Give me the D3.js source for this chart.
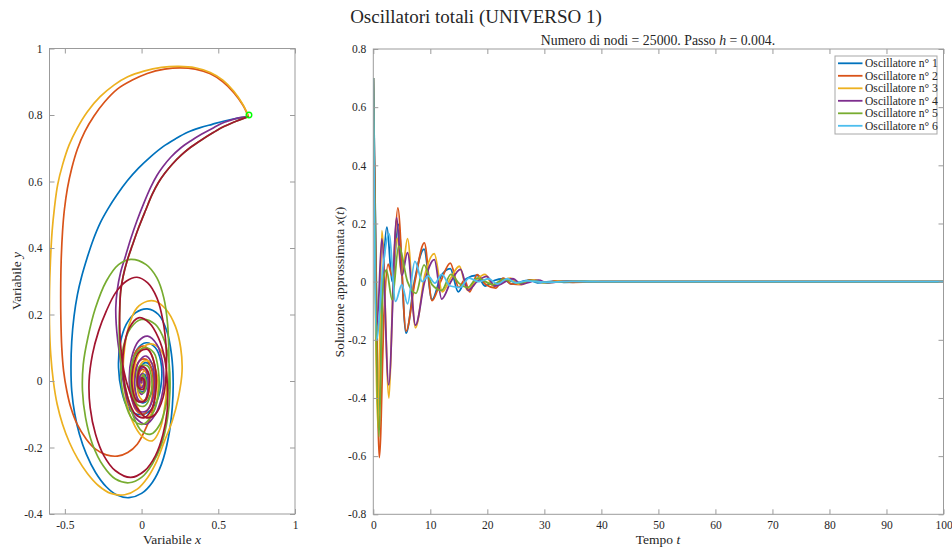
<!DOCTYPE html>
<html>
<head>
<meta charset="utf-8">
<script src="https://cdn.jsdelivr.net/npm/d3@7"></script>
<style>
  body { margin: 0; background: #fff; }
  svg { display: block; }
  text { font-family: "Liberation Serif", "Times New Roman", serif; fill: #262626; }
</style>
</head>
<body>
<svg id="chart" width="952" height="550"></svg>
<script>
// ---- tick values ----
const phaseXTicks = [-0.5, 0, 0.5, 1];
const phaseYTicks = [-0.4, -0.2, 0, 0.2, 0.4, 0.6, 0.8, 1];
const timeXTicks = [0, 10, 20, 30, 40, 50, 60, 70, 80, 90, 100];
const timeYTicks = [-0.8, -0.6, -0.4, -0.2, 0, 0.2, 0.4, 0.6, 0.8];

const legendLabels = ["Oscillatore n° 1", "Oscillatore n° 2", "Oscillatore n° 3",
                      "Oscillatore n° 4", "Oscillatore n° 5", "Oscillatore n° 6"];

// ---- phase trajectories [x, y] ----
const phase1 = [[0.697,0.795],[0.62,0.79],[0.54,0.782],[0.46,0.772],[0.383,0.762],[0.30,0.748],[0.22,0.728],[0.14,0.705],[0.06,0.675],[-0.02,0.64],[-0.093,0.602],[-0.16,0.56],[-0.22,0.517],[-0.27,0.475],[-0.315,0.425],[-0.355,0.37],[-0.39,0.315],[-0.418,0.26],[-0.44,0.195],[-0.455,0.12],[-0.46,0.04],[-0.455,-0.03],[-0.435,-0.1],[-0.405,-0.16],[-0.36,-0.22],[-0.3,-0.275],[-0.23,-0.318],[-0.16,-0.343],[-0.082,-0.351],[0.0,-0.338],[0.07,-0.305],[0.13,-0.25],[0.175,-0.17],[0.2,-0.08],[0.206,0.0],[0.195,0.08],[0.165,0.15],[0.11,0.2],[0.037,0.217],[-0.04,0.205],[-0.1,0.17],[-0.14,0.11],[-0.15,0.04],[-0.13,-0.03],[-0.09,-0.08],[-0.03,-0.1],[0.04,-0.095],[0.1,-0.06],[0.13,0.0],[0.125,0.06],[0.09,0.1],[0.03,0.115],[-0.03,0.095],[-0.06,0.05],[-0.065,-0.01],[-0.035,-0.055],[0.015,-0.065],[0.06,-0.04],[0.08,0.0],[0.065,0.04],[0.025,0.055],[-0.015,0.035],[-0.03,0.0],[-0.01,-0.03],[0.02,-0.03],[0.035,-0.005],[0.02,0.02],[0.0,0.0]];
const phase2 = [[0.697,0.795],[0.66,0.83],[0.6,0.868],[0.53,0.9],[0.448,0.924],[0.35,0.938],[0.253,0.942],[0.15,0.938],[0.037,0.925],[-0.06,0.905],[-0.158,0.878],[-0.24,0.84],[-0.31,0.797],[-0.37,0.75],[-0.418,0.698],[-0.455,0.64],[-0.483,0.58],[-0.503,0.515],[-0.515,0.45],[-0.524,0.36],[-0.527,0.27],[-0.526,0.19],[-0.52,0.1],[-0.508,0.03],[-0.487,-0.03],[-0.461,-0.08],[-0.42,-0.13],[-0.36,-0.175],[-0.3,-0.205],[-0.23,-0.222],[-0.158,-0.226],[-0.09,-0.215],[-0.028,-0.19],[0.03,-0.14],[0.07,-0.09],[0.09,-0.03],[0.09,0.03],[0.065,0.08],[0.015,0.105],[-0.035,0.09],[-0.065,0.04],[-0.07,-0.03],[-0.04,-0.085],[0.01,-0.1],[0.055,-0.075],[0.075,-0.02],[0.065,0.035],[0.03,0.065],[-0.015,0.06],[-0.045,0.025],[-0.045,-0.03],[-0.015,-0.06],[0.025,-0.055],[0.045,-0.02],[0.035,0.02],[0.005,0.035],[-0.02,0.015],[-0.015,-0.02],[0.01,-0.025],[0.02,0.0],[0.0,0.0]];
const phase3 = [[0.697,0.795],[0.66,0.832],[0.6,0.872],[0.53,0.905],[0.448,0.928],[0.35,0.942],[0.242,0.946],[0.13,0.943],[0.015,0.932],[-0.09,0.915],[-0.18,0.89],[-0.27,0.855],[-0.353,0.81],[-0.42,0.76],[-0.472,0.71],[-0.515,0.65],[-0.547,0.59],[-0.568,0.52],[-0.583,0.45],[-0.594,0.36],[-0.6,0.27],[-0.6,0.17],[-0.592,0.08],[-0.575,0.0],[-0.55,-0.07],[-0.515,-0.13],[-0.47,-0.185],[-0.415,-0.235],[-0.353,-0.278],[-0.28,-0.315],[-0.2,-0.338],[-0.11,-0.342],[-0.028,-0.325],[0.04,-0.29],[0.1,-0.24],[0.15,-0.18],[0.2,-0.12],[0.24,-0.05],[0.264,0.03],[0.255,0.1],[0.22,0.165],[0.16,0.215],[0.09,0.24],[0.037,0.24],[-0.03,0.22],[-0.08,0.17],[-0.11,0.1],[-0.12,0.02],[-0.1,-0.06],[-0.06,-0.12],[0.0,-0.165],[0.07,-0.18],[0.12,-0.145],[0.15,-0.08],[0.165,0.0],[0.15,0.07],[0.1,0.105],[0.04,0.11],[-0.02,0.08],[-0.05,0.03],[-0.05,-0.03],[-0.02,-0.085],[0.03,-0.11],[0.08,-0.09],[0.105,-0.04],[0.1,0.02],[0.065,0.055],[0.015,0.06],[-0.02,0.035],[-0.03,-0.01],[-0.01,-0.05],[0.025,-0.06],[0.05,-0.03],[0.045,0.01],[0.02,0.03],[-0.005,0.015],[0.0,-0.015],[0.015,-0.01],[0.0,0.0]];
const phase4 = [[0.697,0.795],[0.62,0.79],[0.54,0.778],[0.47,0.762],[0.39,0.742],[0.32,0.722],[0.253,0.7],[0.19,0.673],[0.14,0.645],[0.1,0.618],[0.06,0.583],[0.015,0.535],[-0.03,0.482],[-0.071,0.427],[-0.105,0.375],[-0.136,0.328],[-0.158,0.275],[-0.168,0.22],[-0.165,0.17],[-0.155,0.12],[-0.14,0.07],[-0.12,0.0],[-0.085,-0.07],[-0.04,-0.11],[0.03,-0.13],[0.09,-0.1],[0.13,-0.05],[0.145,0.0],[0.135,0.06],[0.1,0.11],[0.04,0.135],[-0.02,0.12],[-0.065,0.07],[-0.08,0.0],[-0.06,-0.06],[-0.02,-0.09],[0.03,-0.09],[0.07,-0.06],[0.085,0.0],[0.07,0.05],[0.03,0.075],[-0.015,0.06],[-0.04,0.02],[-0.04,-0.03],[-0.015,-0.06],[0.02,-0.06],[0.04,-0.03],[0.04,0.015],[0.02,0.04],[-0.01,0.035],[-0.025,0.01],[-0.02,-0.025],[0.0,-0.04],[0.02,-0.025],[0.022,0.005],[0.008,0.022],[-0.01,0.015],[-0.015,-0.005],[-0.005,-0.02],[0.01,-0.015],[0.012,0.005],[0.0,0.01],[-0.006,0.0],[0.0,-0.006],[0.0,0.0]];
const phase5 = [[0.697,0.795],[0.62,0.782],[0.54,0.766],[0.47,0.748],[0.39,0.725],[0.32,0.703],[0.26,0.68],[0.2,0.652],[0.15,0.624],[0.11,0.597],[0.07,0.562],[0.025,0.512],[-0.02,0.46],[-0.06,0.408],[-0.095,0.36],[-0.12,0.315],[-0.136,0.27],[-0.142,0.22],[-0.146,0.15],[-0.14,0.08],[-0.12,0.02],[-0.09,-0.05],[-0.05,-0.11],[0.0,-0.15],[0.06,-0.16],[0.12,-0.13],[0.16,-0.07],[0.178,0.0],[0.178,0.08],[0.17,0.17],[0.145,0.25],[0.1,0.31],[0.03,0.35],[-0.071,0.366],[-0.15,0.35],[-0.23,0.3],[-0.3,0.22],[-0.35,0.13],[-0.38,0.05],[-0.385,-0.03],[-0.365,-0.11],[-0.32,-0.19],[-0.25,-0.255],[-0.17,-0.295],[-0.082,-0.306],[0.0,-0.29],[0.07,-0.25],[0.13,-0.19],[0.17,-0.11],[0.185,-0.03],[0.18,0.05],[0.15,0.12],[0.09,0.17],[0.0,0.185],[-0.07,0.16],[-0.12,0.1],[-0.135,0.02],[-0.11,-0.06],[-0.06,-0.115],[0.01,-0.13],[0.07,-0.1],[0.11,-0.04],[0.11,0.03],[0.08,0.085],[0.02,0.1],[-0.04,0.08],[-0.07,0.03],[-0.065,-0.03],[-0.03,-0.07],[0.02,-0.075],[0.06,-0.04],[0.065,0.01],[0.04,0.045],[-0.01,0.045],[-0.03,0.01],[-0.015,-0.03],[0.015,-0.035],[0.03,-0.005],[0.01,0.02],[0.0,0.0]];
const phase6 = [[0.697,0.795],[0.62,0.782],[0.54,0.766],[0.47,0.748],[0.39,0.725],[0.32,0.703],[0.26,0.68],[0.2,0.652],[0.15,0.624],[0.11,0.597],[0.07,0.562],[0.025,0.512],[-0.02,0.46],[-0.06,0.408],[-0.095,0.36],[-0.12,0.315],[-0.136,0.27],[-0.142,0.22],[-0.142,0.16],[-0.135,0.1],[-0.115,0.03],[-0.08,-0.03],[-0.03,-0.08],[0.03,-0.11],[0.09,-0.1],[0.14,-0.05],[0.16,0.02],[0.16,0.1],[0.14,0.18],[0.1,0.25],[0.04,0.295],[-0.03,0.312],[-0.1,0.3],[-0.17,0.265],[-0.23,0.21],[-0.28,0.15],[-0.32,0.08],[-0.342,0.0],[-0.335,-0.08],[-0.3,-0.16],[-0.245,-0.225],[-0.17,-0.27],[-0.071,-0.29],[0.02,-0.27],[0.09,-0.225],[0.14,-0.16],[0.167,-0.09],[0.168,-0.01],[0.15,0.07],[0.11,0.13],[0.05,0.175],[-0.02,0.19],[-0.08,0.16],[-0.115,0.1],[-0.12,0.02],[-0.09,-0.05],[-0.04,-0.1],[0.02,-0.11],[0.07,-0.08],[0.095,-0.02],[0.085,0.05],[0.04,0.095],[-0.02,0.085],[-0.055,0.04],[-0.06,-0.02],[-0.03,-0.06],[0.02,-0.06],[0.05,-0.02],[0.04,0.03],[0.0,0.045],[-0.025,0.015],[-0.02,-0.02],[0.01,-0.025],[0.02,0.0],[0.0,0.01],[0.0,0.0]];
const startPoint = [0.7, 0.8];

// ---- time histories [t, x(t)] ----
const osc1 = [[0,0.70],[0.45,0.1],[0.93,-0.46],[1.6,-0.05],[2.4,0.187],[3.3,0.0],[4.4,0.197],[5.75,-0.177],[7.2,0.0],[8.9,0.112],[10.3,-0.062],[11.9,0.02],[13.5,0.045],[14.9,-0.035],[16.3,0.01],[18.2,0.022],[19.6,-0.015],[21.2,0.004],[22.8,0.01],[24.2,-0.008],[27.4,0.005],[28.8,-0.004],[32,0.002],[33.4,-0.002],[40,0],[100,0]];
const osc2 = [[0,0.70],[0.5,0.0],[1.05,-0.605],[1.9,-0.1],[2.6,0.06],[3.3,0.02],[4.3,0.254],[5.75,-0.17],[7.3,0.0],[8.95,0.133],[10.3,-0.065],[11.8,0.0],[13.5,0.064],[15.0,-0.02],[16.0,0.005],[16.9,-0.035],[18.2,0.024],[19.7,-0.01],[21.5,-0.022],[22.8,0.012],[24.2,-0.008],[26.0,-0.01],[27.4,0.006],[30.5,-0.004],[32,0.003],[35,-0.002],[40,0],[100,0]];
const osc3 = [[0,0.70],[0.8,-0.5],[1.5,0.175],[2.75,-0.40],[3.5,0.0],[4.2,0.15],[5.0,0.02],[6.0,0.148],[7.4,-0.159],[9.0,0.02],[10.7,0.096],[12.1,-0.035],[13.5,0.01],[15.1,0.053],[16.5,-0.03],[18.0,0.005],[19.6,0.025],[21.0,-0.015],[24.0,0.012],[25.5,-0.008],[28.5,0.006],[30,-0.004],[33,0.003],[40,0],[100,0]];
const osc4 = [[0,0.70],[0.65,-0.15],[1.5,0.147],[2.7,-0.355],[4.1,0.22],[5.0,0.02],[6.0,0.10],[7.4,-0.15],[9.0,0.0],[10.7,0.076],[12.0,-0.06],[13.6,0.0],[15.3,0.042],[16.6,-0.03],[18.2,0.0],[19.9,0.018],[21.3,-0.015],[24.5,0.01],[25.9,-0.008],[29,0.005],[30.5,-0.004],[34,0.002],[40,0],[100,0]];
const osc5 = [[0,0.70],[1.0,-0.533],[1.7,0.0],[2.3,0.04],[3.3,-0.062],[4.45,0.122],[6.0,0.0],[7.5,-0.04],[8.9,0.058],[10.3,-0.01],[12.0,-0.03],[13.6,0.025],[15.0,-0.005],[16.6,-0.02],[18.2,0.012],[21,-0.01],[22.8,0.008],[25.5,-0.005],[27.5,0.004],[30,-0.003],[35,0.001],[40,0],[100,0]];
const osc6 = [[0,0.70],[0.55,-0.2],[1.7,0.05],[2.75,0.165],[3.9,-0.068],[5.0,-0.01],[6.0,-0.076],[7.3,0.07],[8.6,0.0],[9.6,0.02],[10.8,-0.005],[12.0,0.025],[13.5,-0.015],[15.2,-0.02],[16.8,0.012],[18.5,0.0],[20.2,0.01],[21.8,-0.008],[23.5,0.01],[25,-0.004],[27,0.003],[30,-0.002],[35,0.001],[40,0],[100,0]];

const timeColors  = ["#0072BD", "#D95319", "#EDB120", "#7E2F8E", "#77AC30", "#4DBEEE"];
const phaseColors = ["#0072BD", "#D95319", "#EDB120", "#7E2F8E", "#77AC30", "#A2142F"];

const svg = d3.select("#chart");
const fmt = d => String(Math.round(d * 10) / 10);
const boxColor = "#9b9b9b";

// generic boxed axes with inward ticks on all four sides
function drawFrame(g, x, y, xt, yt) {
  const [x0, x1] = x.range(), [y0, y1] = y.range();
  const tl = 5;
  g.append("g").attr("transform", `translate(0,${y0})`)
    .call(d3.axisBottom(x).tickValues(xt).tickSize(-tl).tickPadding(7).tickFormat(fmt))
    .call(s => { s.select(".domain").remove(); s.selectAll("line").attr("stroke", boxColor);
                 s.selectAll("text").style("font-size", "11.5px").attr("fill", "#262626"); });
  g.append("g").attr("transform", `translate(0,${y1})`)
    .call(d3.axisTop(x).tickValues(xt).tickSize(-tl).tickFormat(""))
    .call(s => { s.select(".domain").remove(); s.selectAll("line").attr("stroke", boxColor); });
  g.append("g").attr("transform", `translate(${x0},0)`)
    .call(d3.axisLeft(y).tickValues(yt).tickSize(-tl).tickPadding(7).tickFormat(fmt))
    .call(s => { s.select(".domain").remove(); s.selectAll("line").attr("stroke", boxColor);
                 s.selectAll("text").style("font-size", "11.5px").attr("fill", "#262626"); });
  g.append("g").attr("transform", `translate(${x1},0)`)
    .call(d3.axisRight(y).tickValues(yt).tickSize(-tl).tickFormat(""))
    .call(s => { s.select(".domain").remove(); s.selectAll("line").attr("stroke", boxColor); });
  g.append("rect").attr("x", x0).attr("y", y1).attr("width", x1 - x0).attr("height", y0 - y1)
    .attr("fill", "none").attr("stroke", boxColor).attr("stroke-width", 1);
}

// ---- left panel: phase plane ----
const px = d3.scaleLinear().domain([-0.6, 1]).range([49.5, 295]);
const py = d3.scaleLinear().domain([-0.4, 1]).range([514, 48.5]);
const left = svg.append("g");
svg.append("clipPath").attr("id", "clipL").append("rect")
  .attr("x", 49.5).attr("y", 48.5).attr("width", 295 - 49.5).attr("height", 514 - 48.5);

const phaseLine = d3.line().x(d => px(d[0])).y(d => py(d[1])).curve(d3.curveCatmullRom.alpha(0.5));
const phaseData = [phase1, phase2, phase3, phase4, phase5, phase6];
left.append("g").attr("clip-path", "url(#clipL)")
  .selectAll("path").data(phaseData).join("path")
  .attr("d", phaseLine).attr("fill", "none")
  .attr("stroke", (d, i) => phaseColors[i]).attr("stroke-width", 1.7)
  .attr("stroke-linejoin", "round");
left.append("circle").attr("cx", px(startPoint[0])).attr("cy", py(startPoint[1])).attr("r", 2.8)
  .attr("fill", "none").attr("stroke", "#00ff00").attr("stroke-width", 1.4);
drawFrame(left, px, py, phaseXTicks, phaseYTicks);

left.append("text").attr("x", 172).attr("y", 544).attr("text-anchor", "middle")
  .style("font-size", "13.5px")
  .html('Variabile <tspan font-style="italic">x</tspan>');
left.append("text").attr("transform", "translate(21,281) rotate(-90)").attr("text-anchor", "middle")
  .style("font-size", "13.5px")
  .html('Variabile <tspan font-style="italic">y</tspan>');

// ---- right panel: time histories ----
const tx = d3.scaleLinear().domain([0, 100]).range([373.3, 943.5]);
const ty = d3.scaleLinear().domain([-0.8, 0.8]).range([514.3, 49]);
const right = svg.append("g");
svg.append("clipPath").attr("id", "clipR").append("rect")
  .attr("x", 373.3).attr("y", 49).attr("width", 943.5 - 373.3).attr("height", 514.3 - 49);

const timeLine = d3.line().x(d => tx(d[0])).y(d => ty(d[1])).curve(d3.curveMonotoneX);
const timeData = [osc1, osc2, osc3, osc4, osc5, osc6];
right.append("g").attr("clip-path", "url(#clipR)")
  .selectAll("path").data(timeData).join("path")
  .attr("d", timeLine).attr("fill", "none")
  .attr("stroke", (d, i) => timeColors[i]).attr("stroke-width", 1.8)
  .attr("stroke-linejoin", "round");
drawFrame(right, tx, ty, timeXTicks, timeYTicks);

right.append("text").attr("x", 658).attr("y", 544).attr("text-anchor", "middle")
  .style("font-size", "13.5px")
  .html('Tempo <tspan font-style="italic">t</tspan>');
right.append("text").attr("transform", "translate(344,282) rotate(-90)").attr("text-anchor", "middle")
  .style("font-size", "13.5px")
  .html('Soluzione approssimata <tspan font-style="italic">x</tspan>(<tspan font-style="italic">t</tspan>)');
right.append("text").attr("x", 658).attr("y", 45).attr("text-anchor", "middle")
  .style("font-size", "13.8px")
  .html('Numero di nodi = 25000.  Passo <tspan font-style="italic">h</tspan> = 0.004.');

// legend
const lg = right.append("g");
lg.append("rect").attr("x", 835).attr("y", 56).attr("width", 102).attr("height", 78)
  .attr("fill", "#fff").attr("stroke", "#a8a8a8").attr("stroke-width", 1);
const items = lg.selectAll("g.item").data(legendLabels).join("g").attr("class", "item")
  .attr("transform", (d, i) => `translate(0,${63.3 + i * 12.5})`);
items.append("line").attr("x1", 838).attr("x2", 862.5).attr("y1", 0).attr("y2", 0)
  .attr("stroke", (d, i) => timeColors[i]).attr("stroke-width", 1.8);
items.append("text").attr("x", 865).attr("y", 3.8).style("font-size", "11.6px").text(d => d);

// main title
svg.append("text").attr("x", 476).attr("y", 23).attr("text-anchor", "middle")
  .style("font-size", "19px").text("Oscillatori totali (UNIVERSO 1)");
</script>
</body>
</html>
